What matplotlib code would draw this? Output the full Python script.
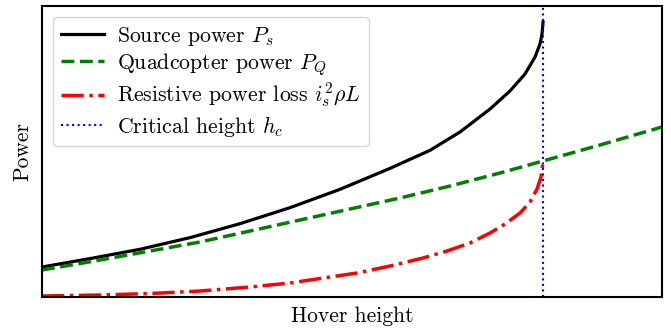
import matplotlib
matplotlib.use("Agg")
import matplotlib.pyplot as plt

plt.rcParams['font.family'] = 'serif'
plt.rcParams['font.serif'] = ['cmr10', 'DejaVu Serif']
plt.rcParams['mathtext.fontset'] = 'cm'
plt.rcParams['axes.unicode_minus'] = False

# hover height (arbitrary units, 0-100) and powers
h_c = 80.81

h_src = [0, 7.74, 15.81, 23.87, 31.94, 40.0, 48.06, 56.13, 62.58, 67.42,
         72.26, 75.48, 77.90, 79.52, 80.32, 80.65, 80.81]
p_src = [10.31, 13.20, 16.40, 20.40, 25.20, 30.70, 37.00, 44.20, 50.40, 56.70,
         64.60, 70.79, 76.63, 82.47, 86.94, 90.38, 94.50]

h_quad = [0, 9.35, 17.42, 25.48, 33.55, 41.61, 49.68, 57.74, 65.81, 73.87,
          80.81, 90.0, 100]
p_quad = [9.28, 12.71, 15.81, 18.90, 22.68, 26.46, 30.24, 34.02, 38.14, 42.61,
          46.74, 52.23, 58.42]

h_loss = [0, 9.35, 17.42, 25.48, 33.55, 40.0, 46.45, 50.81, 56.13, 61.45,
          65.32, 69.03, 72.26, 74.68, 77.10, 78.71, 79.84, 80.48, 80.81]
p_loss = [0.34, 0.69, 1.20, 2.06, 3.44, 4.81, 6.87, 8.25, 10.65, 13.40,
          15.81, 18.56, 21.99, 25.09, 28.87, 32.65, 37.11, 41.24, 46.74]

fig = plt.figure(figsize=(6.71, 3.35), dpi=100)
ax = fig.add_axes([0.0626, 0.1134, 0.924, 0.8687])

ax.plot(h_src, p_src, color='black', lw=2.3, label=r'Source power $P_s$')
ax.plot(h_quad, p_quad, color='green', lw=2.5, ls='--', label=r'Quadcopter power $P_Q$')
ax.plot(h_loss, p_loss, color='red', lw=2.5, ls='-.',
        label=r'Resistive power loss $i_s^2\rho L$')
ax.axvline(h_c, color='blue', lw=1.5, ls=':', label=r'Critical height $h_c$')

ax.set_xlim(0, 100)
ax.set_ylim(0, 100)
ax.set_xticks([])
ax.set_yticks([])
for s in ax.spines.values():
    s.set_linewidth(1.5)

ax.set_xlabel('Hover height', fontsize=15.5, labelpad=7)
ax.set_ylabel('Power', fontsize=15.5, labelpad=7)
ax.legend(loc='upper left', fontsize=15.7, labelspacing=0.15,
          handletextpad=0.6, borderpad=0.35)

fig.savefig('out.png', dpi=100)
